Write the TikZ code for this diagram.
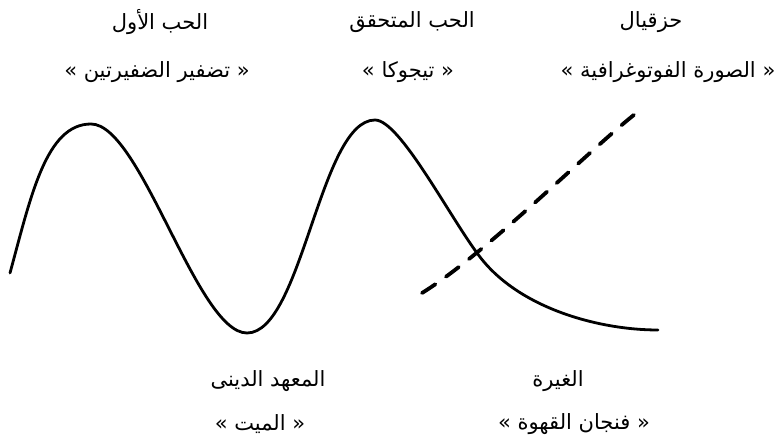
\documentclass[tikz,border=0pt]{standalone}
\usepackage{fontspec}
\newfontfamily\arabicfont[Script=Arabic]{DejaVu Sans}
\TeXXeTstate=1
\usetikzlibrary{positioning}
\definecolor{PlotInk}{HTML}{000000}
\tikzset{
  every node/.style={text=PlotInk, inner sep=0pt},
  lbl/.style={font=\arabicfont\fontsize{21}{25}\selectfont, anchor=center},
  mainline/.style={draw=PlotInk, line width=2.8pt, line cap=round},
  rivalline/.style={draw=PlotInk, line width=3.8pt, line cap=round, dash pattern=on 16pt off 13pt},
}
\newcommand{\ar}[1]{\beginR #1\endR}

\begin{document}
\begin{tikzpicture}[x=1pt,y=-1pt]
  \useasboundingbox (0,0) rectangle (783,443);
  % top labels: title row, then the quoted row
  \node[lbl] (firstlove) at (160,22) {\ar{الحب الأول}};
  \node[lbl] (braids) at (157,72) {\ar{« تضفير الضفيرتين »}};
  \node[lbl] (realized) at (412,22) {\ar{الحب المتحقق}};
  \node[lbl] (tijuca) at (408,72) {\ar{« تيجوكا »}};
  \node[lbl] (ezekiel) at (651,22) {\ar{حزقيال}};
  \node[lbl] (photo) at (668,72) {\ar{« الصورة الفوتوغرافية »}};
  % bottom labels
  \node[lbl] (seminary) at (268,381) {\ar{المعهد الدينى}};
  \node[lbl] (dead) at (260,424) {\ar{« الميت »}};
  \node[lbl] (jealousy) at (558,381) {\ar{الغيرة}};
  \node[lbl] (coffee) at (574,424) {\ar{« فنجان القهوة »}};
  % the solid curve
  \draw[mainline] (10,273) .. controls (31,196) and (46,124) .. (91,124)
    .. controls (141,124) and (197,333) .. (247,333)
    .. controls (302,333) and (320,120) .. (375,120)
    .. controls (400,120) and (450,218) .. (480,257)
    .. controls (520,309) and (600,330) .. (658,330);
  % the dashed curve
  \draw[rivalline] (422,293) .. controls (490,251) and (600,139) .. (643,108);
\end{tikzpicture}
\end{document}
